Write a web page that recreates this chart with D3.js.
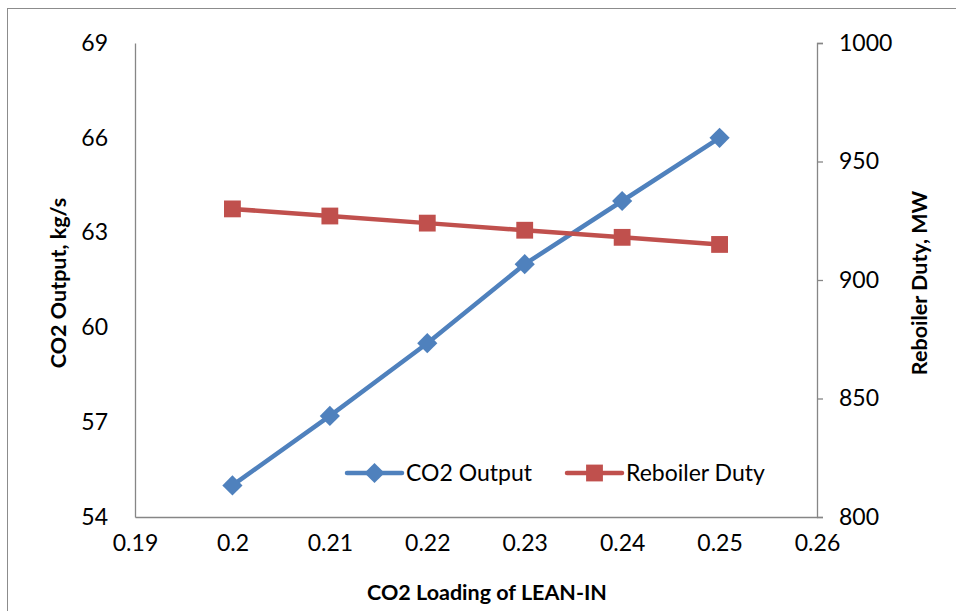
<!DOCTYPE html>
<html>
<head>
<meta charset="utf-8">
<script src="https://cdn.jsdelivr.net/npm/d3@7"></script>
<style>
  html, body { margin: 0; padding: 0; background: #fff; }
  svg text { font-family: Lato, "Open Sans", sans-serif; fill: #000; }
</style>
</head>
<body>
<script>
// CO2 loading of the lean stream vs. captured CO2 and reboiler duty
const loadings = [0.20, 0.21, 0.22, 0.23, 0.24, 0.25];
const co2Output = [55.0, 57.2, 59.5, 62.0, 64.0, 66.0];       // kg/s
const reboilerDuty = [930, 927, 924, 921, 918, 915];          // MW
const xTicks = [0.19, 0.20, 0.21, 0.22, 0.23, 0.24, 0.25, 0.26];
const yLeftTicks = [54, 57, 60, 63, 66, 69];
const yRightTicks = [800, 850, 900, 950, 1000];
const seriesNames = ["CO2 Output", "Reboiler Duty"];

const W = 956, H = 611;
const plot = { left: 135, right: 817, top: 43, bottom: 517 };
const blue = "#4F81BD", red = "#C0504D", axisGray = "#868686";
const fs = 23;

const svg = d3.select("body").append("svg")
  .attr("width", W).attr("height", H);

// chart frame
svg.append("rect")
  .attr("x", 7.5).attr("y", 8.5)
  .attr("width", W + 10).attr("height", H + 10)
  .attr("fill", "none").attr("stroke", "#8c8c8c").attr("stroke-width", 1);

const x = d3.scaleLinear().domain([0.19, 0.26]).range([plot.left, plot.right]);
const yL = d3.scaleLinear().domain([54, 69]).range([plot.bottom, plot.top]);
const yR = d3.scaleLinear().domain([800, 1000]).range([plot.bottom, plot.top]);

// axes
const xAxis = svg.append("g")
  .attr("transform", `translate(0,${plot.bottom})`)
  .call(d3.axisBottom(x).tickValues(xTicks).tickSize(0).tickPadding(18)
    .tickFormat(d => String(+d.toFixed(2))));
const yAxisL = svg.append("g")
  .attr("transform", `translate(${plot.left},0)`)
  .call(d3.axisLeft(yL).tickValues(yLeftTicks).tickSize(0).tickPadding(27)
    .tickFormat(d => String(d)));
const yAxisR = svg.append("g")
  .attr("transform", `translate(${plot.right},0)`)
  .call(d3.axisRight(yR).tickValues(yRightTicks).tickSize(6).tickPadding(16)
    .tickFormat(d => String(d)));

[xAxis, yAxisL, yAxisR].forEach(g => {
  g.select(".domain").attr("stroke", axisGray).attr("stroke-width", 1.3);
  g.selectAll(".tick line").attr("stroke", axisGray).attr("stroke-width", 1.3);
  g.selectAll(".tick text").attr("font-size", fs).attr("font-family", "Lato, sans-serif").attr("fill", "#000");
});

// axis titles
svg.append("text")
  .attr("x", 487).attr("y", 600)
  .attr("text-anchor", "middle").attr("font-size", 21.5).attr("font-weight", "bold")
  .text("CO2 Loading of LEAN-IN");
svg.append("text")
  .attr("transform", `translate(66,${(plot.top + plot.bottom) / 2 + 3}) rotate(-90)`)
  .attr("text-anchor", "middle").attr("font-size", 21.5).attr("font-weight", "bold")
  .text("CO2 Output, kg/s");
svg.append("text")
  .attr("transform", `translate(927,${(plot.top + plot.bottom) / 2 + 3}) rotate(-90)`)
  .attr("text-anchor", "middle").attr("font-size", 21.5).attr("font-weight", "bold")
  .text("Reboiler Duty, MW");

// series
const co2Data = loadings.map((l, i) => ({ x: l, y: co2Output[i] }));
const dutyData = loadings.map((l, i) => ({ x: l, y: reboilerDuty[i] }));

const diamond = d3.symbol().type(d3.symbolDiamond2).size(260);
const square = d3.symbol().type(d3.symbolSquare2).size(360);

svg.append("path").datum(co2Data)
  .attr("fill", "none").attr("stroke", blue).attr("stroke-width", 4.5)
  .attr("stroke-linejoin", "round")
  .attr("d", d3.line().x(d => x(d.x)).y(d => yL(d.y)));
svg.selectAll(".co2pt").data(co2Data).enter().append("path")
  .attr("transform", d => `translate(${x(d.x)},${yL(d.y)})`)
  .attr("d", diamond).attr("fill", blue);

svg.append("path").datum(dutyData)
  .attr("fill", "none").attr("stroke", red).attr("stroke-width", 4.5)
  .attr("d", d3.line().x(d => x(d.x)).y(d => yR(d.y)));
svg.selectAll(".dutypt").data(dutyData).enter().append("path")
  .attr("transform", d => `translate(${x(d.x)},${yR(d.y)})`)
  .attr("d", square).attr("fill", red);

// legend
const legendItems = [
  { name: seriesNames[0], color: blue, sym: diamond, x0: 347 },
  { name: seriesNames[1], color: red, sym: square, x0: 567 }
];
const ly = 473;
legendItems.forEach(it => {
  const g = svg.append("g");
  g.append("line").attr("x1", it.x0).attr("x2", it.x0 + 55)
    .attr("y1", ly).attr("y2", ly)
    .attr("stroke", it.color).attr("stroke-width", 4.5).attr("stroke-linecap", "round");
  g.append("path").attr("transform", `translate(${it.x0 + 27.5},${ly})`)
    .attr("d", it.sym).attr("fill", it.color);
  g.append("text").attr("x", it.x0 + 59).attr("y", ly + 8)
    .attr("font-size", fs).text(it.name);
});
</script>
</body>
</html>
